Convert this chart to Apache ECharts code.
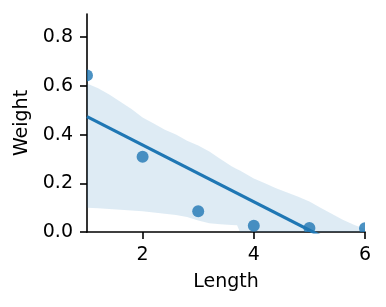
<!DOCTYPE html>
<html><head><meta charset="utf-8">
<script src="https://cdn.jsdelivr.net/npm/echarts@6/dist/echarts.min.js"></script>
<style>html,body{margin:0;padding:0;background:#fff}#c{width:386px;height:307px}</style>
</head><body><div id="c"></div>
<script>
// Observed data
const lengths = [1, 2, 3, 4, 5, 6];
const weights = [0.643, 0.309, 0.085, 0.026, 0.016, 0.015];
// Confidence band
const bandX     = [1, 1.2, 1.4, 1.6, 1.8, 2.0, 2.2, 2.4, 2.6, 2.8, 3.0, 3.2, 3.4, 3.6, 3.7, 3.75, 4.0, 4.2, 4.4, 4.6, 4.8, 5.0, 5.2, 5.4, 5.6, 5.8, 6.0];
const bandUpper = [0.61, 0.59, 0.565, 0.535, 0.505, 0.47, 0.445, 0.42, 0.40, 0.375, 0.355, 0.33, 0.30, 0.27, 0.258, 0.252, 0.22, 0.20, 0.18, 0.162, 0.145, 0.125, 0.10, 0.075, 0.05, 0.03, 0.012];
const bandLower = [0.10, 0.097, 0.094, 0.091, 0.088, 0.085, 0.08, 0.075, 0.07, 0.062, 0.047, 0.036, 0.032, 0.029, 0.028, 0, 0, 0, 0, 0, 0, 0, 0, 0, 0, 0, 0];
// Ticks
const xTicks = [2, 4, 6];
const xTickLabels = ['2', '4', '6'];
const yTicks = [0, 0.2, 0.4, 0.6, 0.8];
const yTickLabels = ['0.0', '0.2', '0.4', '0.6', '0.8'];

// least-squares fit
const n = lengths.length;
const mx = lengths.reduce((a,b)=>a+b,0)/n;
const my = weights.reduce((a,b)=>a+b,0)/n;
let sxy = 0, sxx = 0;
for (let i=0;i<n;i++){ sxy += (lengths[i]-mx)*(weights[i]-my); sxx += (lengths[i]-mx)**2; }
const slope = sxy/sxx, icpt = my - slope*mx;
const fitLine = [[1, icpt+slope*1],[6, icpt+slope*6]];

const blue = '#1f77b4';
const font = 'DejaVu Sans';
const fs = 19;
const chart = echarts.init(document.getElementById('c'), null, {renderer:'canvas'});
chart.setOption({
  animation: false,
  grid: {left: 87, right: 21, top: 14, bottom: 75, containLabel: false},
  xAxis: {
    type: 'value', min: 1, max: 6,
    name: 'Length', nameLocation: 'middle', nameGap: 41,
    nameTextStyle: {fontFamily: font, fontSize: fs, color: '#000'},
    axisLine: {lineStyle: {color: '#000', width: 1.6}},
    axisTick: {customValues: xTicks, length: 7, lineStyle: {color: '#000', width: 1.6}},
    axisLabel: {customValues: xTicks, margin: 14, fontFamily: font, fontSize: fs, color: '#000',
      formatter: v => xTickLabels[xTicks.indexOf(v)]},
    splitLine: {show: false}
  },
  yAxis: {
    type: 'value', min: 0, max: 0.895,
    name: 'Weight', nameLocation: 'middle', nameGap: 50, nameRotate: 90,
    nameTextStyle: {fontFamily: font, fontSize: fs, color: '#000'},
    axisLine: {show: true, lineStyle: {color: '#000', width: 1.6}},
    axisTick: {show: true, customValues: yTicks, length: 7, lineStyle: {color: '#000', width: 1.6}},
    axisLabel: {customValues: yTicks, margin: 14, fontFamily: font, fontSize: fs, color: '#000',
      formatter: v => yTickLabels[yTicks.indexOf(v)]},
    splitLine: {show: false}
  },
  series: [
    {type: 'custom', clip: true, z: 1, silent: true, data: [0],
     renderItem: (params, api) => {
       const pts = [];
       for (let i = 0; i < bandX.length; i++) pts.push(api.coord([bandX[i], bandUpper[i]]));
       for (let i = bandX.length - 1; i >= 0; i--) pts.push(api.coord([bandX[i], bandLower[i]]));
       return {type: 'polygon', shape: {points: pts}, style: {fill: 'rgba(31,119,180,0.15)'}};
     }},
    {type: 'custom', clip: true, z: 2,
     data: lengths.map((x,i)=>[x, weights[i]]),
     renderItem: (params, api) => {
       const p = api.coord([api.value(0), api.value(1)]);
       return {type: 'circle', shape: {cx: p[0], cy: p[1], r: 6},
               style: {fill: 'rgba(31,119,180,0.8)'}};
     }},
    {type: 'line', data: fitLine, clip: true, showSymbol: false, symbol: 'none',
     lineStyle: {color: blue, width: 3.2}, z: 3}
  ]
});
</script></body></html>
